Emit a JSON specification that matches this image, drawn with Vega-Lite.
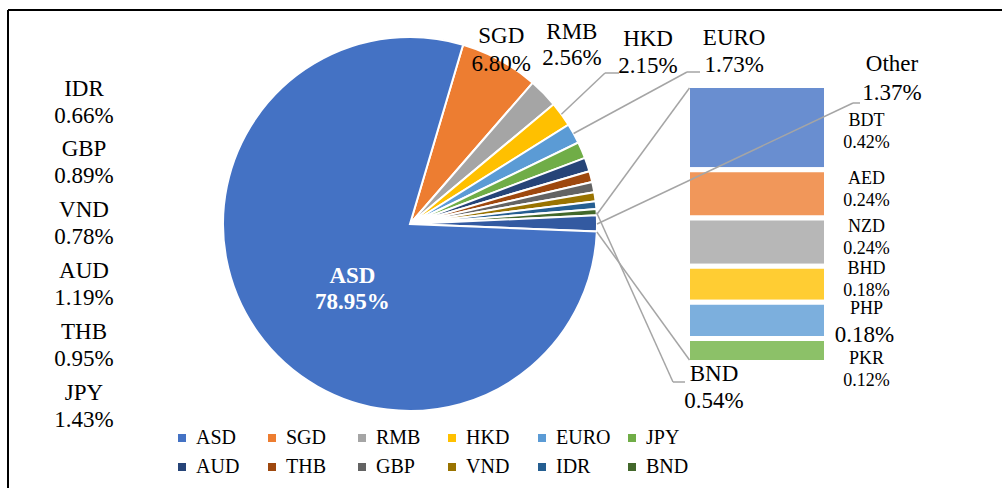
{
  "$schema": "https://vega.github.io/schema/vega-lite/v6.json",
  "width": 994,
  "height": 478,
  "autosize": {"type": "none"},
  "padding": {"left": 8, "top": 10, "right": 0, "bottom": 0},
  "background": "white",
  "config": {
    "font": "Liberation Serif",
    "view": {"stroke": null},
    "text": {"font": "Liberation Serif", "color": "#000000"},
    "legend": {"labelFont": "Liberation Serif"}
  },
  "datasets": {
    "pie": [
      {"currency": "SGD", "value": 6.80, "order": 1},
      {"currency": "RMB", "value": 2.56, "order": 2},
      {"currency": "HKD", "value": 2.15, "order": 3},
      {"currency": "EURO", "value": 1.73, "order": 4},
      {"currency": "JPY", "value": 1.43, "order": 5},
      {"currency": "AUD", "value": 1.19, "order": 6},
      {"currency": "THB", "value": 0.95, "order": 7},
      {"currency": "GBP", "value": 0.89, "order": 8},
      {"currency": "VND", "value": 0.78, "order": 9},
      {"currency": "IDR", "value": 0.66, "order": 10},
      {"currency": "BND", "value": 0.54, "order": 11},
      {"currency": "Other", "value": 1.37, "order": 12},
      {"currency": "ASD", "value": 78.95, "order": 13}
    ],
    "other": [
      {"group": "Other", "currency": "BDT", "value": 0.42, "rank": 6},
      {"group": "Other", "currency": "AED", "value": 0.24, "rank": 5},
      {"group": "Other", "currency": "NZD", "value": 0.24, "rank": 4},
      {"group": "Other", "currency": "BHD", "value": 0.18, "rank": 3},
      {"group": "Other", "currency": "PHP", "value": 0.18, "rank": 2},
      {"group": "Other", "currency": "PKR", "value": 0.12, "rank": 1}
    ]
  },
  "resolve": {
    "scale": {"x": "independent", "y": "independent", "theta": "independent", "color": "independent"},
    "legend": {"color": "independent"}
  },
  "layer": [
    {
      "data": {"values": [{}]},
      "mark": {"type": "rule", "color": "#000000", "strokeWidth": 2},
      "encoding": {"x": {"value": 0}}
    },
    {
      "data": {"values": [{}]},
      "mark": {"type": "rule", "color": "#000000", "strokeWidth": 2},
      "encoding": {"y": {"value": 0}}
    },
    {
      "data": {"name": "pie"},
      "mark": {"type": "arc", "outerRadius": 187, "x": 402, "y": 214, "stroke": "white", "strokeWidth": 2},
      "encoding": {
        "theta": {"field": "value", "type": "quantitative", "stack": true, "scale": {"domain": [0, 100], "range": [0.287979, 6.571164]}},
        "order": {"field": "order", "type": "quantitative", "sort": "ascending"},
        "color": {
          "field": "currency", "type": "nominal",
          "scale": {
            "domain": ["ASD", "SGD", "RMB", "HKD", "EURO", "JPY", "AUD", "THB", "GBP", "VND", "IDR", "BND", "Other"],
            "range": ["#4472C4", "#ED7D31", "#A5A5A5", "#FFC000", "#5B9BD5", "#70AD47", "#264478", "#9E480E", "#636363", "#997300", "#255E91", "#43682B", "#335AA1"]
          },
          "legend": {
            "values": ["ASD", "SGD", "RMB", "HKD", "EURO", "JPY", "AUD", "THB", "GBP", "VND", "IDR", "BND"],
            "orient": "none", "legendX": 164, "legendY": 418, "columns": 6, "direction": "horizontal",
            "symbolType": "square", "symbolSize": 64, "symbolStrokeWidth": 0,
            "labelFont": "Liberation Serif", "labelFontSize": 20, "labelColor": "#000000", "labelOffset": 4, "labelLimit": 0,
            "columnPadding": 11, "rowPadding": 9, "gridAlign": "all", "title": null, "padding": 0
          }
        }
      }
    },
    {
      "data": {"name": "other"},
      "mark": {"type": "bar", "stroke": "white", "strokeWidth": 5},
      "encoding": {
        "x": {"field": "group", "type": "nominal", "scale": {"type": "band", "domain": ["Other"], "range": [679.5, 818.5], "paddingInner": 0, "paddingOuter": 0}, "axis": null},
        "y": {"field": "value", "type": "quantitative", "stack": "zero", "scale": {"domain": [0, 1.38], "range": [352.5, 75.5], "nice": false, "zero": true}, "axis": null},
        "color": {"field": "currency", "type": "nominal", "scale": {"domain": ["BDT", "AED", "NZD", "BHD", "PHP", "PKR"], "range": ["#698ED0", "#F1975A", "#B7B7B7", "#FFCD33", "#7CAFDD", "#8CC168"]}, "legend": null},
        "order": {"field": "rank", "type": "quantitative", "sort": "ascending"}
      }
    },
    {
      "data": {"name": "pie"},
      "transform": [{"filter": "datum.currency == 'HKD'"}],
      "layer": [
        {"mark": {"type": "rule", "color": "#A5A5A5", "strokeWidth": 1.5}, "encoding": {"x": {"value": 553.4}, "y": {"value": 104.3}, "x2": {"value": 597}, "y2": {"value": 63}}},
        {"mark": {"type": "rule", "color": "#A5A5A5", "strokeWidth": 1.5}, "encoding": {"x": {"value": 597}, "y": {"value": 63}, "x2": {"value": 611}, "y2": {"value": 63}}}
      ]
    },
    {
      "data": {"name": "pie"},
      "transform": [{"filter": "datum.currency == 'EURO'"}],
      "layer": [
        {"mark": {"type": "rule", "color": "#A5A5A5", "strokeWidth": 1.5}, "encoding": {"x": {"value": 565.6}, "y": {"value": 123.5}, "x2": {"value": 679}, "y2": {"value": 62}}},
        {"mark": {"type": "rule", "color": "#A5A5A5", "strokeWidth": 1.5}, "encoding": {"x": {"value": 679}, "y": {"value": 62}, "x2": {"value": 692}, "y2": {"value": 62}}}
      ]
    },
    {
      "data": {"name": "pie"},
      "transform": [{"filter": "datum.currency == 'Other'"}],
      "layer": [
        {"mark": {"type": "rule", "color": "#A5A5A5", "strokeWidth": 1.5}, "encoding": {"x": {"value": 588.8}, "y": {"value": 204.5}, "x2": {"value": 681.5}, "y2": {"value": 78}}},
        {"mark": {"type": "rule", "color": "#A5A5A5", "strokeWidth": 1.5}, "encoding": {"x": {"value": 588.9}, "y": {"value": 222}, "x2": {"value": 681.5}, "y2": {"value": 350}}},
        {"mark": {"type": "rule", "color": "#A5A5A5", "strokeWidth": 1.5}, "encoding": {"x": {"value": 589}, "y": {"value": 214}, "x2": {"value": 845}, "y2": {"value": 93}}},
        {"mark": {"type": "rule", "color": "#A5A5A5", "strokeWidth": 1.5}, "encoding": {"x": {"value": 845}, "y": {"value": 93}, "x2": {"value": 852}, "y2": {"value": 93}}}
      ]
    },
    {
      "data": {"name": "pie"},
      "transform": [{"filter": "datum.currency == 'BND'"}],
      "layer": [
        {"mark": {"type": "rule", "color": "#A5A5A5", "strokeWidth": 1.5}, "encoding": {"x": {"value": 588.6}, "y": {"value": 202.5}, "x2": {"value": 665}, "y2": {"value": 372}}},
        {"mark": {"type": "rule", "color": "#A5A5A5", "strokeWidth": 1.5}, "encoding": {"x": {"value": 665}, "y": {"value": 372}, "x2": {"value": 677}, "y2": {"value": 372}}}
      ]
    },
    {
      "data": {"name": "pie"},
      "transform": [
        {"stack": "value", "groupby": [], "sort": [{"field": "order", "order": "ascending"}], "as": ["v0", "v1"]},
        {"calculate": "(datum.v0 + datum.v1) / 2", "as": "mid"},
        {"calculate": "datum.currency + '\\n' + format(datum.value, '.2f') + '%'", "as": "label"}
      ],
      "encoding": {
        "theta": {"field": "mid", "type": "quantitative", "stack": null, "scale": {"domain": [0, 100], "range": [0.287979, 6.571164]}},
        "text": {"field": "label"}
      },
      "layer": [
        {"transform": [{"filter": "datum.currency == 'SGD'"}], "mark": {"type": "text", "font": "Liberation Serif", "x": 402, "y": 214, "radius": 196, "dx": -3, "dy": -16, "fontSize": 23, "lineHeight": 28, "lineBreak": "\n", "align": "center", "baseline": "middle"}},
        {"transform": [{"filter": "datum.currency == 'RMB'"}], "mark": {"type": "text", "font": "Liberation Serif", "x": 402, "y": 214, "radius": 242, "dx": -11, "dy": -23, "fontSize": 23, "lineHeight": 26, "lineBreak": "\n", "align": "center", "baseline": "middle"}},
        {"transform": [{"filter": "datum.currency == 'HKD'"}], "mark": {"type": "text", "font": "Liberation Serif", "x": 402, "y": 214, "radius": 294, "dx": 0, "dy": -12.5, "fontSize": 23, "lineHeight": 27, "lineBreak": "\n", "align": "center", "baseline": "middle"}},
        {"transform": [{"filter": "datum.currency == 'EURO'"}], "mark": {"type": "text", "font": "Liberation Serif", "x": 402, "y": 214, "radius": 367, "dx": 3, "dy": -8.5, "fontSize": 23, "lineHeight": 27, "lineBreak": "\n", "align": "center", "baseline": "middle"}},
        {"transform": [{"filter": "datum.currency == 'BND'"}], "mark": {"type": "text", "font": "Liberation Serif", "x": 402, "y": 214, "radius": 304.6, "dx": 0, "dy": 169.5, "fontSize": 23, "lineHeight": 27, "lineBreak": "\n", "align": "center", "baseline": "middle"}},
        {"transform": [{"filter": "datum.currency == 'ASD'"}], "mark": {"type": "text", "font": "Liberation Serif", "x": 402, "y": 214, "radius": 85, "dx": 11.5, "dy": 3, "fontSize": 23, "fontWeight": "bold", "color": "white", "lineHeight": 26, "lineBreak": "\n", "align": "center", "baseline": "middle"}}
      ]
    },
    {
      "data": {"name": "pie"},
      "transform": [
        {"filter": "indexof(['IDR','GBP','VND','AUD','THB','JPY'], datum.currency) >= 0"},
        {"calculate": "datum.currency + '\\n' + format(datum.value, '.2f') + '%'", "as": "label"}
      ],
      "mark": {"type": "text", "font": "Liberation Serif", "x": 76, "dy": -13.5, "fontSize": 23, "lineHeight": 27, "lineBreak": "\n", "align": "center", "baseline": "middle"},
      "encoding": {
        "y": {"field": "currency", "type": "nominal", "scale": {"type": "point", "domain": ["IDR", "GBP", "VND", "AUD", "THB", "JPY"], "range": [92, 396], "padding": 0}, "axis": null},
        "text": {"field": "label"}
      }
    },
    {
      "data": {"name": "pie"},
      "transform": [
        {"filter": "datum.currency == 'Other'"},
        {"calculate": "datum.currency + '\\n' + format(datum.value, '.2f') + '%'", "as": "label"}
      ],
      "mark": {"type": "text", "font": "Liberation Serif", "dx": 65.5, "dy": -24, "fontSize": 23, "lineHeight": 29, "lineBreak": "\n", "align": "center", "baseline": "middle"},
      "encoding": {
        "x": {"datum": "Other", "type": "nominal", "bandPosition": 1, "scale": {"type": "band", "domain": ["Other"], "range": [679.5, 818.5], "paddingInner": 0, "paddingOuter": 0}, "axis": null},
        "y": {"field": "value", "type": "quantitative", "scale": {"domain": [0, 1.38], "range": [352.5, 75.5], "nice": false, "zero": true}, "axis": null},
        "text": {"field": "label"}
      }
    },
    {
      "data": {"name": "other"},
      "transform": [
        {"stack": "value", "groupby": ["group"], "sort": [{"field": "rank", "order": "ascending"}], "as": ["v0", "v1"]},
        {"calculate": "(datum.v0 + datum.v1) / 2", "as": "mid"},
        {"calculate": "datum.currency + '\\n' + format(datum.value, '.2f') + '%'", "as": "label"},
        {"calculate": "format(datum.value, '.2f') + '%'", "as": "pct"}
      ],
      "encoding": {
        "x": {"field": "group", "type": "nominal", "bandPosition": 1, "scale": {"type": "band", "domain": ["Other"], "range": [679.5, 818.5], "paddingInner": 0, "paddingOuter": 0}, "axis": null},
        "y": {"field": "mid", "type": "quantitative", "scale": {"domain": [0, 1.38], "range": [352.5, 75.5], "nice": false, "zero": true}, "axis": null}
      },
      "layer": [
        {"transform": [{"filter": "datum.currency == 'BDT'"}], "mark": {"type": "text", "font": "Liberation Serif", "dx": 40, "dy": -7, "fontSize": 18, "lineHeight": 22, "lineBreak": "\n", "align": "center", "baseline": "middle"}, "encoding": {"text": {"field": "label"}}},
        {"transform": [{"filter": "indexof(['AED','NZD','BHD'], datum.currency) >= 0"}], "mark": {"type": "text", "font": "Liberation Serif", "dx": 40, "dy": -15, "fontSize": 18, "lineHeight": 22, "lineBreak": "\n", "align": "center", "baseline": "middle"}, "encoding": {"text": {"field": "label"}}},
        {"transform": [{"filter": "datum.currency == 'PKR'"}], "mark": {"type": "text", "font": "Liberation Serif", "dx": 40, "dy": 8.5, "fontSize": 18, "lineHeight": 22, "lineBreak": "\n", "align": "center", "baseline": "middle"}, "encoding": {"text": {"field": "label"}}},
        {"transform": [{"filter": "datum.currency == 'PHP'"}], "mark": {"type": "text", "font": "Liberation Serif", "dx": 40, "dy": -11, "fontSize": 18, "align": "center", "baseline": "middle"}, "encoding": {"text": {"field": "currency"}}},
        {"transform": [{"filter": "datum.currency == 'PHP'"}], "mark": {"type": "text", "font": "Liberation Serif", "dx": 38, "dy": 15, "fontSize": 23, "align": "center", "baseline": "middle"}, "encoding": {"text": {"field": "pct"}}}
      ]
    }
  ]
}
